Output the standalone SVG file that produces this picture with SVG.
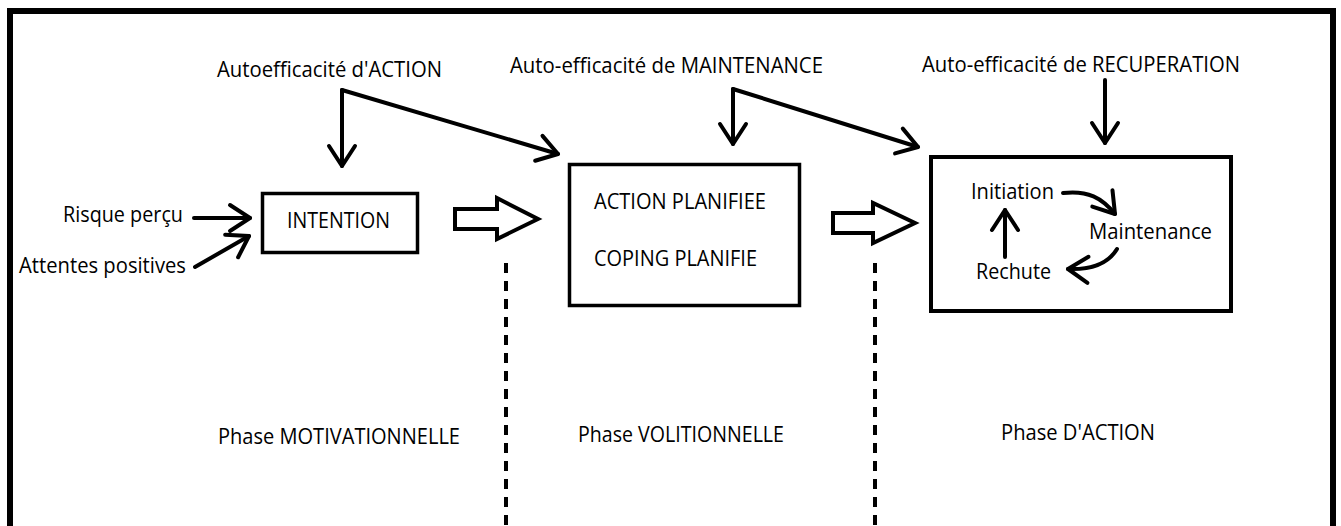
<svg xmlns="http://www.w3.org/2000/svg" width="1341" height="526" viewBox="0 0 1341 526">
<style>
  .t { font-family: "Open Sans", Lato, "Liberation Sans", sans-serif; font-size: 21px; fill: #000; }
  .box { fill: none; stroke: #000; stroke-width: 3.5; }
  .ln { fill: none; stroke: #000; stroke-width: 4; stroke-linecap: round; }
  .big { fill: #fff; stroke: #000; stroke-width: 4; stroke-linejoin: miter; }
  .dash { stroke: #000; stroke-width: 4; stroke-dasharray: 10 8; }
</style>
<defs>
  <marker id="v" markerUnits="userSpaceOnUse" viewBox="-30 -30 60 60" markerWidth="60" markerHeight="60" refX="0" refY="0" orient="auto" overflow="visible">
    <path d="M-20,-13 L0,0 L-20,13" fill="none" stroke="#000" stroke-width="4" stroke-linecap="round" stroke-linejoin="round"/>
  </marker>
</defs>
<rect width="1341" height="526" fill="#fff"/>
<path d="M10,530 L10,11 L1333,11 L1333,530" fill="none" stroke="#000" stroke-width="6"/>

<g id="label-action-se"><text class="t" x="217" y="77" textLength="225" lengthAdjust="spacingAndGlyphs">Autoefficacité d'ACTION</text></g>
<g id="label-maintenance-se"><text class="t" x="510" y="73" textLength="313" lengthAdjust="spacingAndGlyphs">Auto-efficacité de MAINTENANCE</text></g>
<g id="label-recuperation-se"><text class="t" x="922" y="72" textLength="318" lengthAdjust="spacingAndGlyphs">Auto-efficacité de RECUPERATION</text></g>
<g id="label-risque"><text class="t" x="63" y="222" textLength="120" lengthAdjust="spacingAndGlyphs">Risque perçu</text></g>
<g id="label-attentes"><text class="t" x="19" y="273" textLength="167" lengthAdjust="spacingAndGlyphs">Attentes positives</text></g>

<g id="node-intention">
  <rect class="box" x="262.5" y="193.5" width="155" height="59"/>
  <text class="t" x="287" y="228" textLength="103" lengthAdjust="spacingAndGlyphs">INTENTION</text>
</g>
<g id="node-planification">
  <rect class="box" x="569.5" y="164.5" width="230" height="141"/>
  <text class="t" x="594" y="209" textLength="172" lengthAdjust="spacingAndGlyphs">ACTION PLANIFIEE</text>
  <text class="t" x="594" y="266" textLength="163" lengthAdjust="spacingAndGlyphs">COPING PLANIFIE</text>
</g>
<g id="node-action">
  <rect class="box" x="931" y="157" width="300" height="154" style="stroke-width:4"/>
  <text class="t" x="971" y="199" textLength="83" lengthAdjust="spacingAndGlyphs">Initiation</text>
  <text class="t" x="1089" y="239" textLength="123" lengthAdjust="spacingAndGlyphs">Maintenance</text>
  <text class="t" x="976" y="279" textLength="75" lengthAdjust="spacingAndGlyphs">Rechute</text>
</g>

<g id="phase-motivationnelle"><text class="t" x="218" y="444" textLength="242" lengthAdjust="spacingAndGlyphs">Phase MOTIVATIONNELLE</text></g>
<g id="phase-volitionnelle"><text class="t" x="578" y="442" textLength="206" lengthAdjust="spacingAndGlyphs">Phase VOLITIONNELLE</text></g>
<g id="phase-action"><text class="t" x="1001" y="440" textLength="154" lengthAdjust="spacingAndGlyphs">Phase D'ACTION</text></g>

<g id="connectors">
  <path class="ln" d="M342,90 L342,166" marker-end="url(#v)"/>
  <path class="ln" d="M342,90 L558,154" marker-end="url(#v)"/>
  <path class="ln" d="M733,89 L733,144" marker-end="url(#v)"/>
  <path class="ln" d="M733,89 L918,147" marker-end="url(#v)"/>
  <path class="ln" d="M1105,80 L1105,143" marker-end="url(#v)"/>
  <path class="ln" d="M194,218 L250,218" marker-end="url(#v)"/>
  <path class="ln" d="M195,267 L249,236" marker-end="url(#v)"/>
  <polygon class="big" points="455,209 497,209 497,198 538,219 497,239 497,229 455,229"/>
  <polygon class="big" points="833,213 873,213 873,203 915,223 873,243 873,233 833,233"/>
  <line class="dash" x1="506" y1="263" x2="506" y2="526"/>
  <line class="dash" x1="875" y1="263" x2="875" y2="526"/>
  <path class="ln" d="M1063,193 C1088,190 1102,198 1115,214" marker-end="url(#v)"/>
  <path class="ln" d="M1117,249 C1108,264 1092,270 1068,269" marker-end="url(#v)"/>
  <path class="ln" d="M1005,257 L1005,210" marker-end="url(#v)"/>
</g>
</svg>
